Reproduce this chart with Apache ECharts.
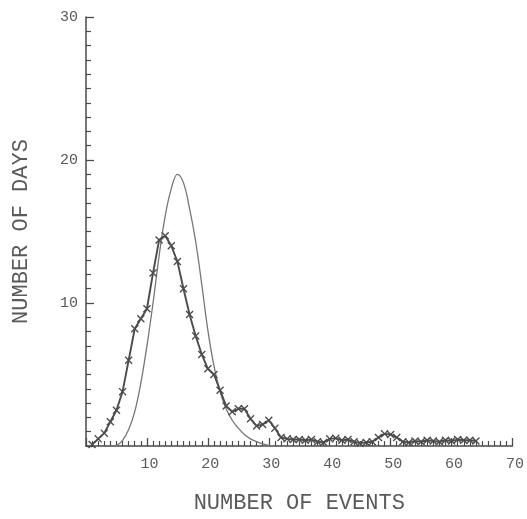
<!DOCTYPE html>
<html>
<head>
<meta charset="utf-8">
<script src="https://cdn.jsdelivr.net/npm/echarts@6/dist/echarts.min.js"></script>
<style>
html,body{margin:0;padding:0;background:#fff;}
#chart{width:527px;height:519px;}
</style>
</head>
<body>
<div id="chart"></div>
<script>
// Observed histogram (x markers): number of events -> number of days
const eventCounts = [1,2,3,4,5,6,7,8,9,10,11,12,13,14,15,16,17,18,19,20,21,22,23,24,25,26,27,28,29,30,31,32,33,34,35,36,37,38,39,40,41,42,43,44,45,46,47,48,49,50,51,52,53,54,55,56,57,58,59,60,61,62,63,64];
const observedDays = [0.1,0.5,0.9,1.7,2.5,3.8,6.0,8.2,8.9,9.6,12.1,14.4,14.7,14.0,12.9,11.0,9.2,7.7,6.4,5.4,5.0,3.9,2.8,2.4,2.6,2.6,1.9,1.4,1.5,1.8,1.25,0.6,0.5,
  0.45,0.45,0.4,0.45,0.3,0.25,0.5,0.55,0.4,0.45,0.3,0.2,0.25,0.3,0.6,0.85,0.8,0.6,0.3,0.25,0.35,0.3,0.4,0.35,0.3,0.4,0.35,0.45,0.4,0.4,0.35];

// Smooth fitted curve
const fitEvents = [4,5,6,7,8,9,10,11,12,13,14,15,16,17,18,19,20,21,22,23,24,25,26,27,28,29,30,31];
const fitDays = [0,0.05,0.4,1.15,2.4,4.4,7.0,10.0,13.3,16.1,18.0,19.0,18.4,16.6,14.3,11.3,8.1,5.6,3.8,2.6,1.8,1.25,0.8,0.5,0.3,0.15,0.05,0];

// Tick labels
const xTickLabels = [10,20,30,40,50,60,70];
const yTickLabels = [10,20,30];

const ink = '#4a4a4a';
const textInk = '#5a5a5a';
const font = '"Liberation Mono", "DejaVu Sans Mono", monospace';

const chart = echarts.init(document.getElementById('chart'), null, {renderer:'canvas'});
const xSymbol = 'path://M0,1.2L1.2,0L5,3.8L8.8,0L10,1.2L6.2,5L10,8.8L8.8,10L5,6.2L1.2,10L0,8.8L3.8,5Z';

chart.setOption({
  animation: false,
  backgroundColor: '#fff',
  grid: {left: 86, top: 17, width: 427, height: 431, containLabel: false},
  xAxis: {
    type: 'value', min: 0, max: 70, interval: 10,
    name: 'NUMBER OF EVENTS', nameLocation: 'middle', nameGap: 46,
    nameTextStyle: {fontFamily: font, fontSize: 22, color: textInk},
    axisLine: {show: true, lineStyle: {color: ink, width: 1.5}},
    axisTick: {show: true, inside: true, length: 8, lineStyle: {color: ink, width: 1.3}},
    minorTick: {show: true, splitNumber: 10, length: 5, lineStyle: {color: ink, width: 1.2}},
    splitLine: {show: false},
    axisLabel: {
      margin: 11, fontFamily: font, fontSize: 15, color: textInk, padding: [0, 0, 0, 5],
      formatter: v => xTickLabels.includes(v) ? String(v) : ''
    }
  },
  yAxis: {
    type: 'value', min: 0, max: 30, interval: 10,
    name: 'NUMBER OF DAYS', nameLocation: 'middle', nameGap: 54,
    nameTextStyle: {fontFamily: font, fontSize: 22, color: textInk},
    axisLine: {show: true, lineStyle: {color: ink, width: 1.5}},
    axisTick: {show: true, inside: true, length: 8, lineStyle: {color: ink, width: 1.3}},
    minorTick: {show: true, splitNumber: 10, length: 5, lineStyle: {color: ink, width: 1.2}},
    splitLine: {show: false},
    axisLabel: {
      margin: 8, fontFamily: font, fontSize: 15, color: textInk,
      formatter: v => yTickLabels.includes(v) ? String(v) : ''
    }
  },
  series: [
    {
      type: 'line', name: 'fit',
      data: fitEvents.map((x, i) => [x, fitDays[i]]),
      smooth: 0.4, showSymbol: false,
      lineStyle: {color: '#767676', width: 1.3},
      z: 2
    },
    {
      type: 'line', name: 'observed',
      data: eventCounts.map((x, i) => [x, observedDays[i]]),
      symbol: xSymbol, symbolSize: 8, showAllSymbol: true,
      itemStyle: {color: '#4c4c4c'},
      lineStyle: {color: '#4c4c4c', width: 1.9},
      z: 3
    }
  ]
});
</script>
</body>
</html>
